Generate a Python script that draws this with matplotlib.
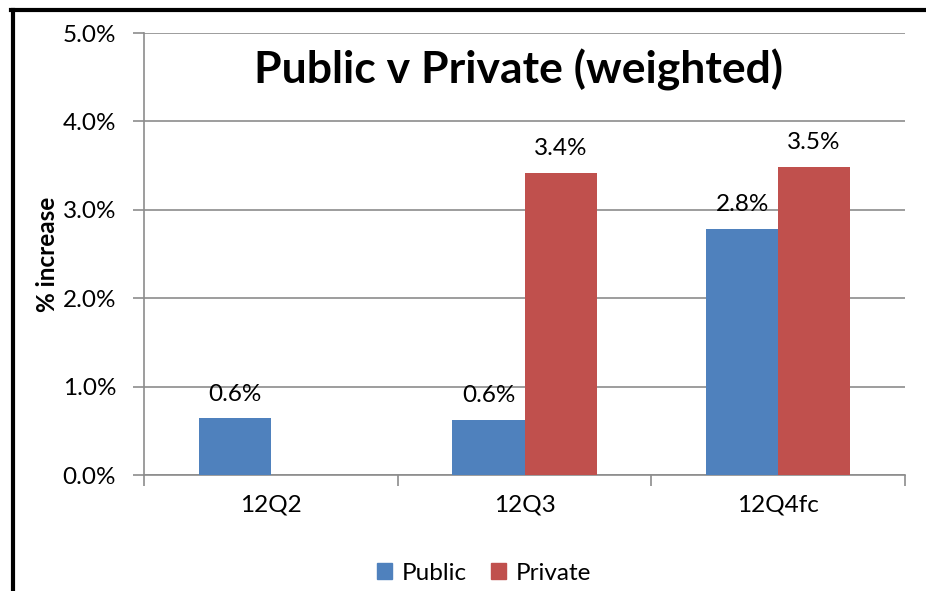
import matplotlib
matplotlib.use("Agg")
import matplotlib.pyplot as plt
from matplotlib.lines import Line2D
from matplotlib.patches import Patch
import numpy as np

plt.rcParams['font.family'] = ['Lato', 'DejaVu Sans']

categories = ["12Q2", "12Q3", "12Q4fc"]
public = [0.64, 0.62, 2.78]
private = [0.0, 3.42, 3.48]
public_labels = ["0.6%", "0.6%", "2.8%"]
private_labels = ["", "3.4%", "3.5%"]
yticks = [0, 1, 2, 3, 4, 5]
ytick_labels = ["0.0%", "1.0%", "2.0%", "3.0%", "4.0%", "5.0%"]

blue = "#4F81BD"
red = "#C0504D"
grid = "#8c8c8c"
fs = 17.5

fig = plt.figure(figsize=(9.26, 5.91), dpi=100)
ax = fig.add_axes([144/926, 1-475/591, (905-144)/926, (475-33)/591])

x = np.arange(len(categories))
w = 0.284
ax.bar(x - w/2, public, w, color=blue, zorder=3)
ax.bar(x + w/2, private, w, color=red, zorder=3)

for i in range(len(categories)):
    if public_labels[i]:
        ax.annotate(public_labels[i], (x[i] - w/2, public[i]), xytext=(0, 10),
                    textcoords="offset points", ha="center", va="bottom", fontsize=fs)
    if private_labels[i]:
        ax.annotate(private_labels[i], (x[i] + w/2, private[i]), xytext=(0, 10),
                    textcoords="offset points", ha="center", va="bottom", fontsize=fs)

ax.set_xlim(-0.5, 2.5)
ax.set_ylim(0, 5)
ax.set_yticks(yticks)
ax.set_yticklabels(ytick_labels, fontsize=fs)
ax.yaxis.grid(True, color=grid, linewidth=1.2, zorder=0)
ax.set_axisbelow(True)

ax.set_xticks(x)
ax.set_xticklabels(categories, fontsize=fs)
ax.tick_params(axis='x', length=0, pad=14)
ax.set_xticks([-0.5, 0.5, 1.5, 2.5], minor=True)
ax.tick_params(axis='x', which='minor', length=8, color=grid, width=1.2)
ax.tick_params(axis='y', length=8, color=grid, width=1.2, pad=12)

for s in ["top", "right"]:
    ax.spines[s].set_visible(False)
for s in ["left", "bottom"]:
    ax.spines[s].set_color(grid)
    ax.spines[s].set_linewidth(1.2)

ax.set_ylabel("% increase", fontsize=fs, fontweight="bold", labelpad=3)

fig.text(518/926, 1-70/591, "Public v Private (weighted)", ha="center", va="center",
         fontsize=32, fontweight="bold")

handles = [Patch(color=blue, label="Public"), Patch(color=red, label="Private")]
fig.legend(handles=handles, loc="center", bbox_to_anchor=(484/926, 1-573/591), ncol=2,
           frameon=False, fontsize=fs, handlelength=0.6, handleheight=0.6,
           handletextpad=0.4, columnspacing=1.0)

fig.add_artist(Line2D([12.5/926, 12.5/926], [0, 1-10/591], color="black", linewidth=3,
                      transform=fig.transFigure))
fig.add_artist(Line2D([11/926, 1], [1-10/591, 1-10/591], color="black", linewidth=3,
                      transform=fig.transFigure))

fig.savefig("out.png", dpi=100)
